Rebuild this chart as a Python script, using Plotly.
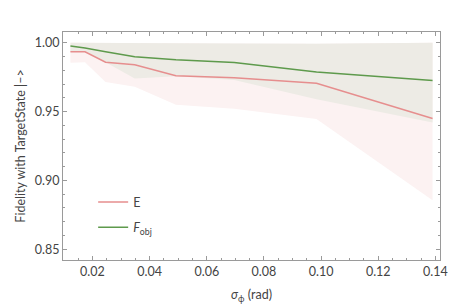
import plotly.graph_objects as go

sigma = [0.0123, 0.0174, 0.0246, 0.0348, 0.0492, 0.0696, 0.0984, 0.139]
E_mean = [0.9934, 0.9934, 0.9858, 0.9840, 0.9760, 0.9745, 0.9705, 0.9450]
E_low = [0.9854, 0.9858, 0.9715, 0.9680, 0.9550, 0.9520, 0.9446, 0.8856]
E_high = [1.0, 1.0, 1.0, 1.0, 0.9995, 0.9995, 0.9992, 1.0]
F_mean = [0.9977, 0.9962, 0.9934, 0.9899, 0.9877, 0.9856, 0.9788, 0.9726]
F_low = [0.9934, 0.9934, 0.9858, 0.9740, 0.9757, 0.9729, 0.9590, 0.9420]
F_high = [1.0, 1.0, 1.0, 1.0, 0.9995, 0.9995, 0.9992, 1.0]

red = "#E68E8E"
green = "#5E9A4C"
font = "Lato"

fig = go.Figure()
# pink band (E)
fig.add_trace(go.Scatter(x=sigma, y=E_high, mode="lines", line=dict(width=0),
                         showlegend=False, hoverinfo="skip"))
fig.add_trace(go.Scatter(x=sigma, y=E_low, mode="lines", line=dict(width=0),
                         fill="tonexty", fillcolor="#FCF2F2", showlegend=False, hoverinfo="skip"))
# grey band (F_obj)
fig.add_trace(go.Scatter(x=sigma, y=F_high, mode="lines", line=dict(width=0),
                         showlegend=False, hoverinfo="skip"))
fig.add_trace(go.Scatter(x=sigma, y=F_low, mode="lines", line=dict(width=0),
                         fill="tonexty", fillcolor="#EDEBE5", showlegend=False, hoverinfo="skip"))
# lines
fig.add_trace(go.Scatter(x=sigma, y=E_mean, mode="lines", name="E",
                         line=dict(color=red, width=1.5), legendgroup="a"))
fig.add_trace(go.Scatter(x=sigma, y=F_mean, mode="lines", name="<i>F</i><sub>obj</sub>",
                         line=dict(color=green, width=1.5), legendgroup="b"))

axis_common = dict(
    showline=True, linecolor="#9a9a9a", linewidth=1, mirror="allticks",
    ticks="inside", ticklen=4, tickcolor="#9a9a9a", showgrid=False, zeroline=False,
    tickfont=dict(family=font, size=12.5, color="#444"),
)
fig.update_xaxes(range=[0.0097, 0.1416], tickvals=[0.02, 0.04, 0.06, 0.08, 0.10, 0.12, 0.14],
                 ticktext=["0.02", "0.04", "0.06", "0.08", "0.10", "0.12", "0.14"],
                 minor=dict(ticks="inside", ticklen=2, tickcolor="#9a9a9a", dtick=0.005, tick0=0),
                 title=dict(text="<i>σ</i><sub>ϕ</sub> (rad)", font=dict(family=font, size=12.5, color="#444"), standoff=12),
                 **axis_common)
fig.update_yaxes(range=[0.8422, 1.0078], tickvals=[0.85, 0.90, 0.95, 1.00],
                 ticktext=["0.85", "0.90", "0.95", "1.00"],
                 minor=dict(ticks="inside", ticklen=2, tickcolor="#9a9a9a", dtick=0.01, tick0=0),
                 title=dict(text="Fidelity with TargetState |–>", font=dict(family=font, size=12.5, color="#444"), standoff=6),
                 **axis_common)

fig.update_layout(
    width=456, height=304,
    margin=dict(l=52, r=24, t=24, b=46),
    paper_bgcolor="white", plot_bgcolor="white",
    showlegend=True,
    legend=dict(x=0.08, y=0.319, xanchor="left", yanchor="top",
                font=dict(family=font, size=12.5, color="#444"),
                bgcolor="rgba(0,0,0,0)", tracegroupgap=6, itemwidth=30),
)

fig.write_html("out.html")
